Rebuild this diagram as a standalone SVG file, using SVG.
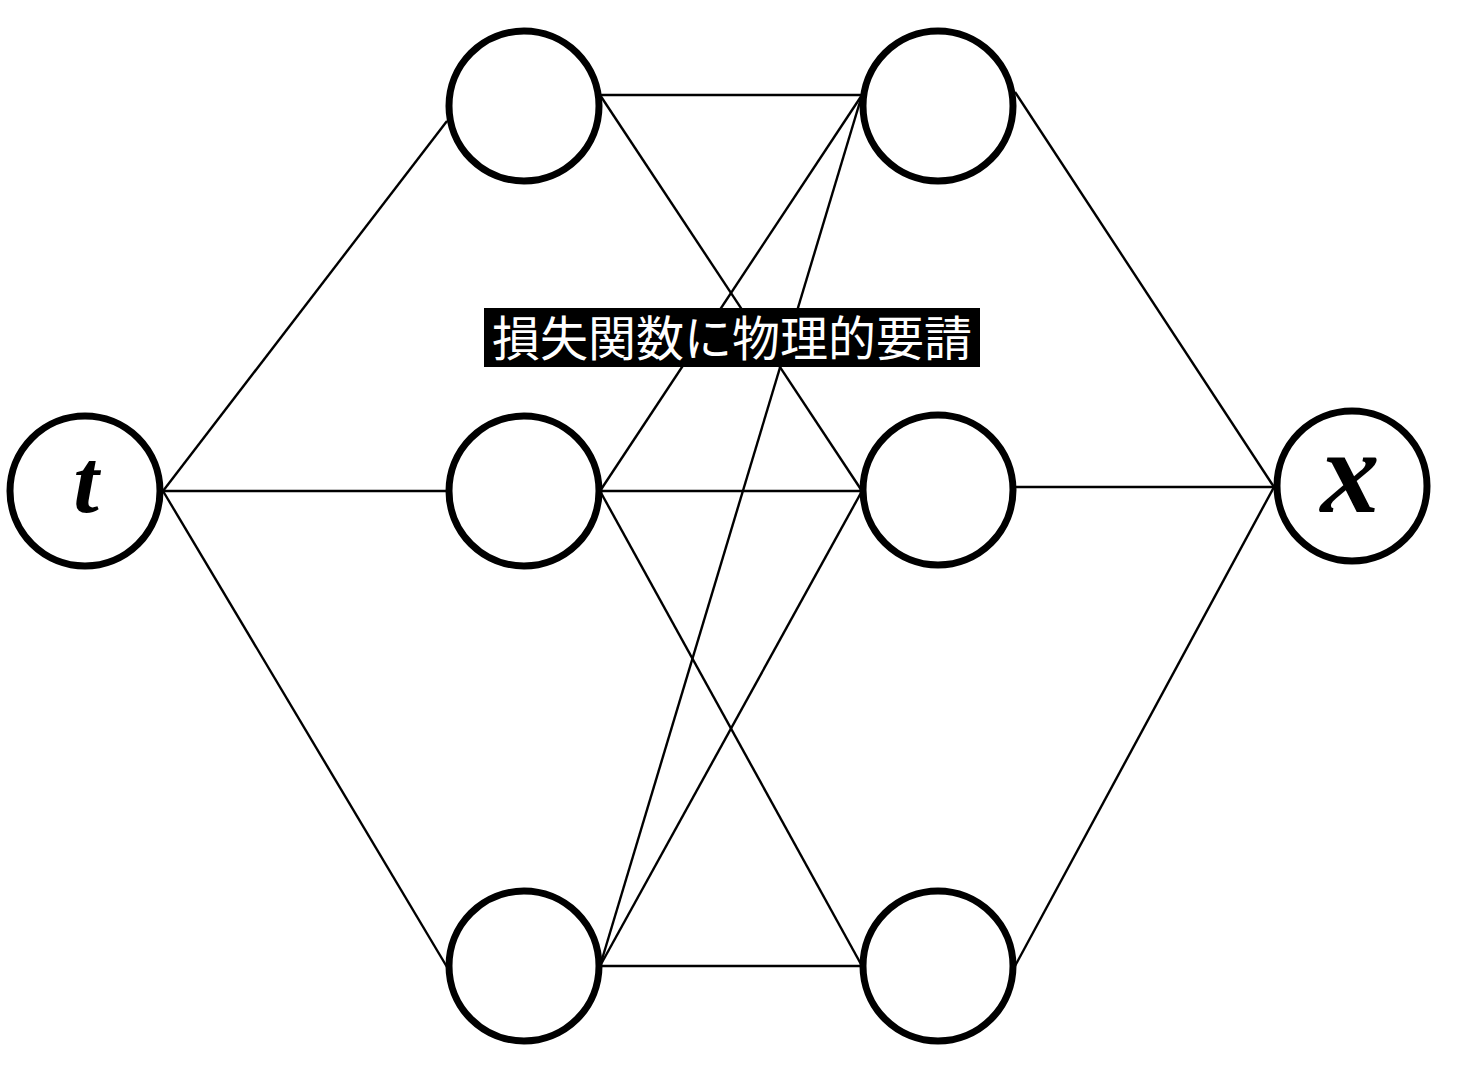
<svg xmlns="http://www.w3.org/2000/svg" width="1478" height="1066" viewBox="0 0 1478 1066">
<style>
.node{fill:#fff;stroke:#000;stroke-width:7}
.edge{stroke:#000;stroke-width:2.4;fill:none}
.math{font-family:"Liberation Serif","DejaVu Serif",serif;font-style:italic;font-weight:bold;fill:#000;text-anchor:middle}
.lbl{font-family:"Noto Sans CJK JP",sans-serif;font-size:48px;fill:#fff;text-anchor:middle}
</style>
<rect width="1478" height="1066" fill="#fff"/>
<g id="connectors">
<line class="edge" x1="163" y1="491" x2="447" y2="121"/>
<line class="edge" x1="163" y1="491" x2="447" y2="491"/>
<line class="edge" x1="163" y1="491" x2="447" y2="967"/>
<line class="edge" x1="600" y1="95" x2="862" y2="95"/>
<line class="edge" x1="600" y1="95" x2="862" y2="491"/>
<line class="edge" x1="600" y1="491" x2="862" y2="95"/>
<line class="edge" x1="600" y1="491" x2="862" y2="491"/>
<line class="edge" x1="600" y1="491" x2="862" y2="966"/>
<line class="edge" x1="600" y1="966" x2="862" y2="95"/>
<line class="edge" x1="600" y1="966" x2="862" y2="491"/>
<line class="edge" x1="600" y1="966" x2="862" y2="966"/>
<line class="edge" x1="1015" y1="92" x2="1274" y2="487"/>
<line class="edge" x1="1015" y1="487" x2="1274" y2="487"/>
<line class="edge" x1="1015" y1="966" x2="1274" y2="487"/>
</g>
<g id="node-t"><circle class="node" cx="85" cy="491" r="75"/><text class="math" x="86" y="512" font-size="92">t</text></g>
<g id="node-h1"><circle class="node" cx="524" cy="106" r="75"/></g>
<g id="node-h2"><circle class="node" cx="524" cy="491" r="75"/></g>
<g id="node-h3"><circle class="node" cx="524" cy="966" r="75"/></g>
<g id="node-g1"><circle class="node" cx="938" cy="106" r="75"/></g>
<g id="node-g2"><circle class="node" cx="938" cy="490" r="75"/></g>
<g id="node-g3"><circle class="node" cx="938" cy="966" r="75"/></g>
<g id="node-x"><circle class="node" cx="1352" cy="486" r="75"/><text class="math" x="1350" y="512" font-size="118">x</text></g>
<g id="label"><rect x="484" y="308" width="496" height="59" fill="#000"/><text class="lbl" x="732" y="356">損失関数に物理的要請</text></g>
</svg>
